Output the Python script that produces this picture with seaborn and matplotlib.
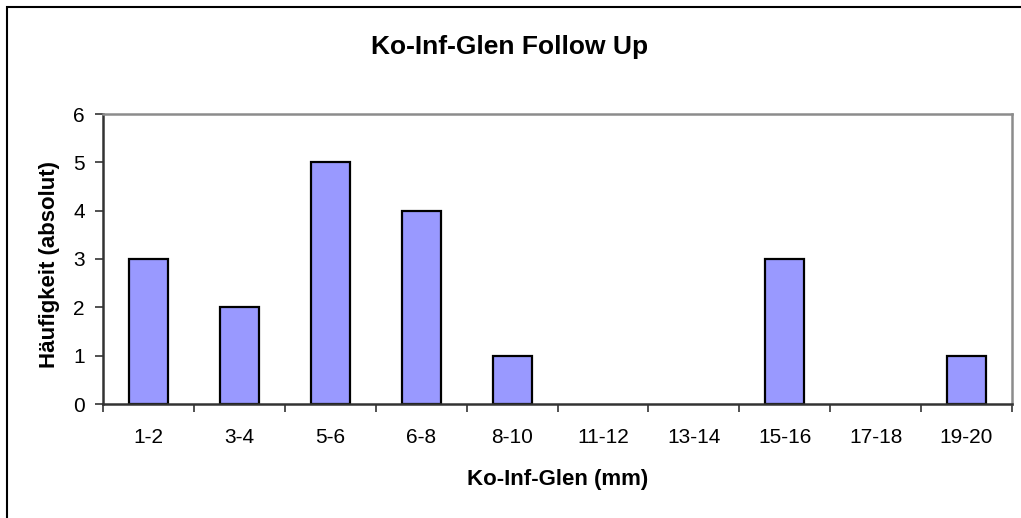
import matplotlib
matplotlib.use("Agg")
import matplotlib.pyplot as plt
from matplotlib.patches import Rectangle
import seaborn as sns
import pandas as pd
import numpy as np

# Size classes (mm) and absolute counts
categories = ["1-2", "3-4", "5-6", "6-8", "8-10", "11-12", "13-14", "15-16", "17-18", "19-20"]
counts = [3, 2, 5, 4, 1, 0, 0, 3, 0, 1]
y_ticks = [0, 1, 2, 3, 4, 5, 6]

title = "Ko-Inf-Glen Follow Up"
x_label = "Ko-Inf-Glen (mm)"
y_label = "Häufigkeit (absolut)"

sns.set_theme(style="white")
plt.rcParams["font.family"] = ["Liberation Sans", "DejaVu Sans"]
plt.rcParams["text.color"] = "black"
plt.rcParams["axes.labelcolor"] = "black"

df = pd.DataFrame({"Klasse": categories, "Anzahl": counts})

fig = plt.figure(figsize=(10.21, 5.18), dpi=100)
ax = fig.add_axes([103 / 1021, 1 - 404 / 518, (1012 - 103) / 1021, (404 - 114) / 518])

sns.barplot(data=df, x="Klasse", y="Anzahl", ax=ax, color="#9999FF",
            width=0.43, edgecolor="black", linewidth=1.6, saturation=1)

# empty classes get no visible outline
for bar in ax.patches:
    if bar.get_height() == 0:
        bar.set_visible(False)

ax.set_xlim(-0.5, len(categories) - 0.5)
ax.set_ylim(0, 6)
ax.set_yticks(y_ticks)
ax.set_yticklabels([str(t) for t in y_ticks], fontsize=15)

# category labels centered, tick marks on the category boundaries
ax.set_xticks(np.arange(len(categories)))
ax.set_xticklabels(categories, fontsize=15)
ax.set_xticks(np.arange(len(categories) + 1) - 0.5, minor=True)
ax.tick_params(axis="x", which="major", length=0, pad=17, labelcolor="black")
ax.tick_params(axis="x", which="minor", bottom=True, length=6, width=1.2, color="#333333")
ax.tick_params(axis="y", left=True, length=6, width=1.2, color="#333333", pad=7, labelcolor="black")

for side in ("left", "bottom"):
    ax.spines[side].set_color("#333333")
    ax.spines[side].set_linewidth(1.8)
for side in ("top", "right"):
    ax.spines[side].set_visible(True)
    ax.spines[side].set_color("#8c8c8c")
    ax.spines[side].set_linewidth(1.8)

ax.set_xlabel(x_label, fontsize=16, fontweight="bold", va="center", color="black")
ax.set_ylabel(y_label, fontsize=16, fontweight="bold", va="center", color="black")
ax.xaxis.set_label_coords(0.5, (404 - 480) / 290)
ax.yaxis.set_label_coords((49 - 103) / 909, (404 - 265) / 290)

fig.text(510 / 1021, 1 - 47 / 518, title, ha="center", va="center",
         fontsize=19, fontweight="bold", color="black")

# chart frame
fig.patches.append(Rectangle((7 / 1021, -0.05), 1.2, 1 - 7 / 518 + 0.05,
                             transform=fig.transFigure, fill=False,
                             edgecolor="black", linewidth=1.5))

fig.savefig("out.png", dpi=100)
